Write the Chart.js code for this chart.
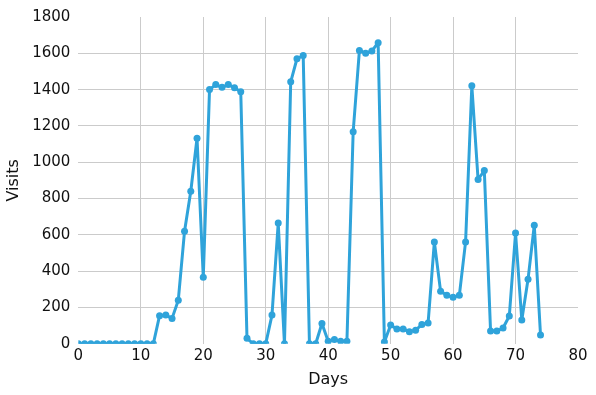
<!DOCTYPE html>
<html lang="en">
<head>
    <meta charset="UTF-8">
    <title>Visits per day</title>
    <script src="https://cdn.jsdelivr.net/npm/chart.js"></script>
    <style>
        html, body { margin: 0; padding: 0; background: #fff; }
        #wrap { width: 596px; height: 395px; }
    </style>
</head>
<body>
    <div id="wrap"><canvas id="visitsChart" width="596" height="395"></canvas></div>

    <script>
        // days 0..74 and visits
        const days = [];
        for (let d = 0; d <= 74; d++) days.push(d);
        const visits = [
            0, 0, 0, 0, 0, 0, 0, 0, 0, 0,
            0, 0, 0, 155, 158, 140, 240, 620, 840, 1132,
            367, 1400, 1428, 1413, 1428, 1411, 1388, 30, 0, 0,
            0, 158, 665, 0, 1443, 1570, 1588, 0, 0, 112,
            14, 23, 14, 14, 1168, 1616, 1601, 1613, 1658, 10,
            103, 82, 82, 67, 75, 106, 115, 561, 289, 267,
            257, 267, 561, 1421, 905, 954, 70, 70, 87, 153,
            610, 131, 355, 653, 48
        ];
        const xTicks = [0, 10, 20, 30, 40, 50, 60, 70, 80];
        const yTicks = [0, 200, 400, 600, 800, 1000, 1200, 1400, 1600, 1800];

        const points = days.map((d, i) => ({ x: d, y: visits[i] }));
        const gridColor = '#cbcbcb';
        const font = { family: 'DejaVu Sans', size: 15 };

        new Chart(document.getElementById('visitsChart').getContext('2d'), {
            type: 'line',
            data: {
                datasets: [{
                    data: points,
                    borderColor: '#2fa3da',
                    backgroundColor: '#2fa3da',
                    borderWidth: 3,
                    borderJoinStyle: 'round',
                    pointRadius: 3.5,
                    pointBorderWidth: 0,
                    tension: 0
                }]
            },
            options: {
                responsive: false,
                animation: false,
                layout: { padding: { left: 4, right: 18, top: 2, bottom: 6 } },
                plugins: { legend: { display: false }, tooltip: { enabled: false } },
                scales: {
                    x: {
                        type: 'linear',
                        min: xTicks[0],
                        max: xTicks[xTicks.length - 1],
                        afterBuildTicks: axis => { axis.ticks = xTicks.map(v => ({ value: v })); },
                        border: { display: false },
                        grid: {
                            color: ctx => (ctx.tick && (ctx.tick.value === 0 || ctx.tick.value === 80)) ? 'rgba(0,0,0,0)' : gridColor,
                            lineWidth: 1,
                            drawTicks: false
                        },
                        ticks: { color: '#111', font: font, padding: 3, maxRotation: 0, callback: v => String(v) },
                        title: { display: true, text: 'Days', color: '#111', font: { family: 'DejaVu Sans', size: 16 }, padding: { top: 2, bottom: 0 } }
                    },
                    y: {
                        min: yTicks[0],
                        max: yTicks[yTicks.length - 1],
                        afterBuildTicks: axis => { axis.ticks = yTicks.map(v => ({ value: v })); },
                        border: { display: false },
                        grid: {
                            color: ctx => (ctx.tick && (ctx.tick.value === 0 || ctx.tick.value === 1800)) ? 'rgba(0,0,0,0)' : gridColor,
                            lineWidth: 1,
                            drawTicks: false
                        },
                        ticks: { color: '#111', font: font, padding: 8, callback: v => String(v) },
                        title: { display: true, text: 'Visits', color: '#111', font: { family: 'DejaVu Sans', size: 16 }, padding: { top: 0, bottom: 1 } }
                    }
                }
            }
        });
    </script>
</body>
</html>
